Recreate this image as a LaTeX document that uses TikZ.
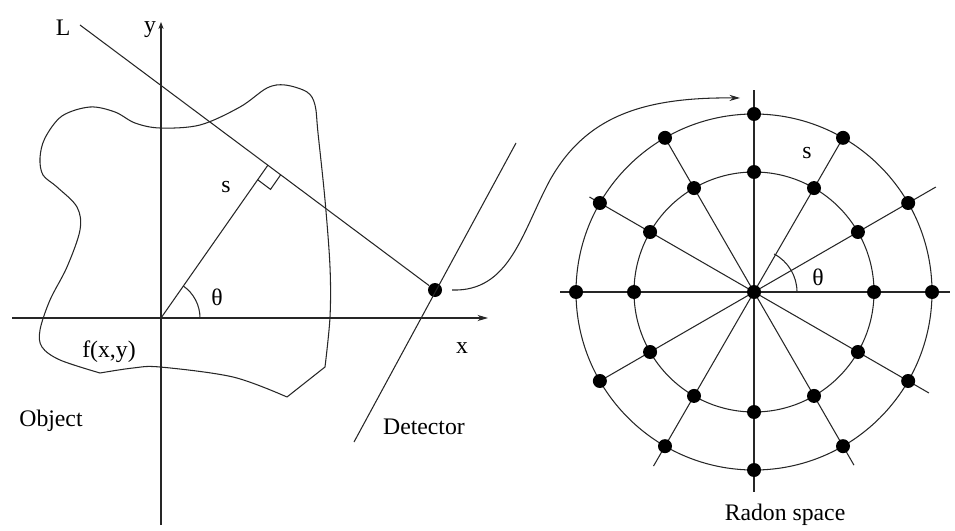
\documentclass[tikz,border=0pt]{standalone}
\usepackage{fontspec}
\setmainfont{Liberation Serif}
\usetikzlibrary{arrows.meta}
\begin{document}
\begin{tikzpicture}[x=0.02cm,y=-0.02cm,
  ln/.style={line width=0.6pt,draw=black!85},
  arr/.style={-{Stealth[length=6pt,width=3.5pt]}},
  smallarr/.style={-{Stealth[length=4pt,width=3pt]}},
  dot/.style={circle,fill=black,inner sep=0pt,minimum size=0.28cm},
  lbl/.style={font=\fontsize{13.5}{15}\selectfont,inner sep=0pt}]
\useasboundingbox (0,0) rectangle (955,530);

% ---------- left: object, axes ----------
\coordinate (O) at (161,318);
\coordinate (ytop) at (161,22);
\coordinate (ybot) at (161,525);
\coordinate (xl) at (12,318);
\coordinate (xr) at (488,318);
\draw[ln,smallarr] (ybot) -- (ytop);
\draw[ln,arr] (xl) -- (xr);

% object outline
\draw[ln] plot[smooth,tension=0.55] coordinates {(100,373) (60,360) (42,347) (40,330) (50,300) (67,267) (80,230) (77,207) (57,187) (43,175) (40,158) (45,138) (62,116) (90,107) (115,112) (135,123) (160,128) (200,125) (240,107) (267,88) (285,85) (307,92) (315,105) (318,133) (325,200) (330,267) (330,317) (325,367)}
  -- (287,397)
  plot[smooth,tension=0.55] coordinates {(287,397) (233,377) (160,367) (133,368) (100,373)};

% detector, line L, perpendicular s
\node[dot] (det) at (435,290) {};
\coordinate (Lstart) at (80,25);
\draw[ln] (Lstart) -- (det);
\coordinate (d1) at (516,143);
\coordinate (d2) at (354,442);
\draw[ln] (d1) -- (d2);
\coordinate (F) at (268,165);
\draw[ln] (O) -- (F);
\draw[ln] (257.7,179.8) -- (270.5,189.4) -- (280.8,174.6);
\draw[ln] (200,318) arc[start angle=0,end angle=-55,radius=39];

% labels left
\node[lbl] (lL) at (63,28) {L};
\node[lbl] (ly) at (150,30) {y};
\node[lbl] (lx) at (462,348) {x};
\node[lbl] (ls) at (226,187) {s};
\node[lbl] (lth) at (217,297) {θ};
\node[lbl] (lf) at (109,352) {f(x,y)};
\node[lbl] (lobj) at (51,421) {Object};
\node[lbl] (ldet) at (424,427) {Detector};

% curved arrow to Radon space
\coordinate (astart) at (452,290);
\coordinate (aend) at (740,98);
\draw[ln,arr] (astart) .. controls (510,292) and (522,232) .. (550,180)
  .. controls (585,118) and (640,97) .. (aend);

% ---------- right: Radon space ----------
\begin{scope}[shift={(754,292)},x=0.02cm,y=0.02cm]
  \foreach \a/\l in {0/196,90/202,180/194,270/200,30/210,330/202,240/201,300/200,60/182,120/182,150/190,210/182}
    \draw[ln] (0,0) -- (\a:\l);
  \draw[ln] (0,0) circle[radius=178];
  \draw[ln] (0,0) circle[radius=120];
  \draw[ln] (43,0) arc[start angle=0,end angle=62,radius=43];
  \node[dot] (C) at (0,0) {};
  \foreach \a in {0,30,...,330} {
    \node[dot] (o\a) at (\a:178) {};
    \node[dot] (i\a) at (\a:120) {};
  }
  \node[lbl] (rs) at (53,139) {s};
  \node[lbl] (rth) at (64,15) {θ};
  \node[lbl] (rad) at (31,-223) {Radon space};
\end{scope}
\end{tikzpicture}
\end{document}
